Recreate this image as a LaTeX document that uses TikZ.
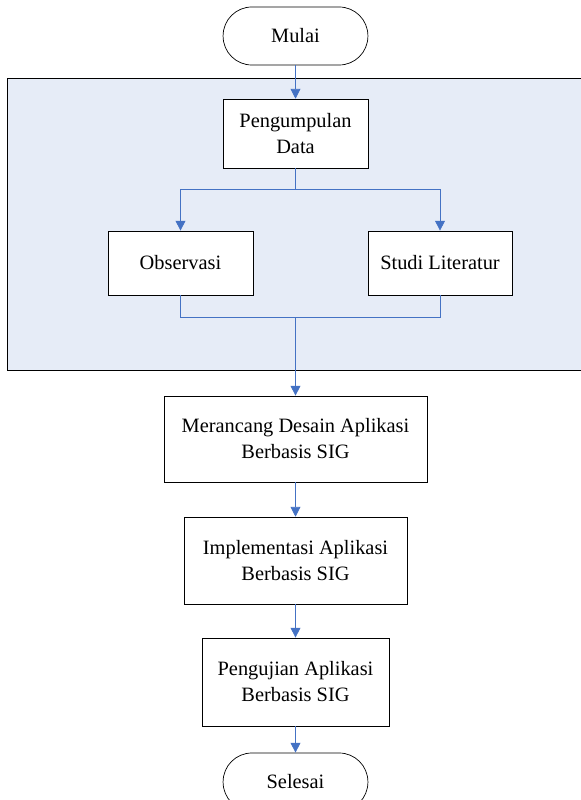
\documentclass[tikz,border=0pt]{standalone}
\usepackage{fontspec}
\setmainfont{Liberation Serif}
\usepackage{xcolor}
\usetikzlibrary{arrows.meta,backgrounds}
\definecolor{flowblue}{RGB}{68,114,196}
\definecolor{panelblue}{RGB}{230,236,247}
\tikzset{box/.style={draw,line width=0.5pt,fill=white,align=center,inner sep=2pt}}
\tikzset{term/.style={box,rounded corners=0.72cm,minimum width=3.62cm,minimum height=1.45cm}}
\tikzset{flow/.style={draw=flowblue,line width=0.6pt,-{Triangle[length=7pt,width=7pt]}}}
\tikzset{wire/.style={draw=flowblue,line width=0.6pt}}

\begin{document}
\begin{tikzpicture}[x=0.025cm,y=-0.025cm,font=\fontsize{14.5}{18.5}\selectfont]
	\useasboundingbox (0,0) rectangle (580,800);
	\fill[panelblue,draw=black,line width=0.5pt] (7,78) rectangle (590,370);
 	\node[term] (start) at (295.5,36) {Mulai};
 	\node[box,minimum width=3.62cm,minimum height=1.72cm] (collect) at (295.5,133.5) {Pengumpulan\\Data};
 	\node[box,minimum width=3.62cm,minimum height=1.6cm] (observe) at (180.5,263) {Observasi};
 	\node[box,minimum width=3.6cm,minimum height=1.6cm] (study) at (440,263) {Studi Literatur};
 	\node[box,minimum width=6.57cm,minimum height=2.15cm] (design) at (295.5,439) {Merancang Desain Aplikasi\\Berbasis SIG};
 	\node[box,minimum width=5.57cm,minimum height=2.17cm] (implement) at (295.5,560.5) {Implementasi Aplikasi\\Berbasis SIG};
 	\node[box,minimum width=4.68cm,minimum height=2.2cm] (test) at (295.5,682) {Pengujian Aplikasi\\Berbasis SIG};
 	\node[term] (finish) at (295.5,782) {Selesai};
	\coordinate (split) at (295.5,189);
	\coordinate (merge) at (295.5,317);
	\draw[flow] (start) -- (collect);
	\draw[wire] (collect) -- (split);
	\draw[flow] (split) -| (observe);
	\draw[flow] (split) -| (study);
	\draw[wire] (observe) |- (merge);
	\draw[wire] (study) |- (merge);
	\draw[flow] (merge) -- (design);
	\draw[flow] (design) -- (implement);
	\draw[flow] (implement) -- (test);
	\draw[flow] (test) -- (finish);
\end{tikzpicture}
\end{document}
